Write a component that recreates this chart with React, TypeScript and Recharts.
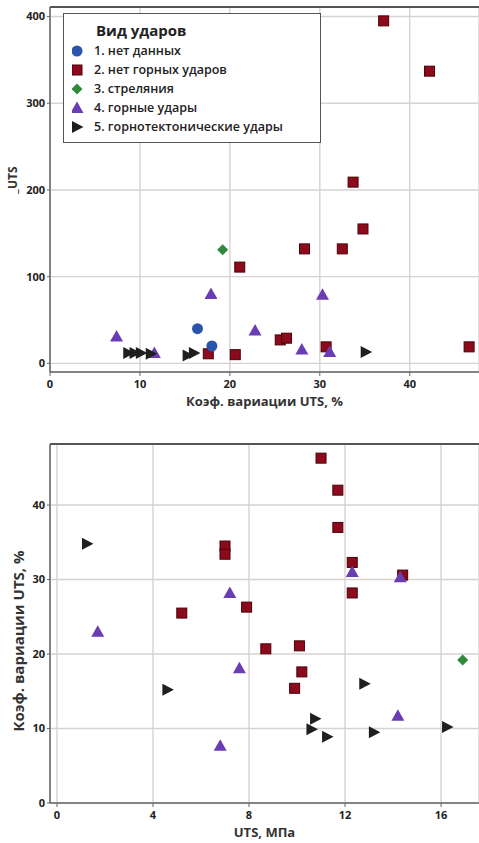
import React from "react";
import { ScatterChart, Scatter, XAxis, YAxis, CartesianGrid, ReferenceLine, Legend } from "recharts";

const FONT = "'Open Sans', 'DejaVu Sans', sans-serif";

const seriesNames = [
  "1. нет данных",
  "2. нет горных ударов",
  "3. стреляния",
  "4. горные удары",
  "5. горнотектонические удары",
];
const seriesColors = ["#2b55ad", "#8c0a1c", "#2f8a3c", "#6a3db5", "#1f1f1f"];

// верхний график: x = коэф. вариации UTS, %
const topXTicks = [0, 10, 20, 30, 40];
const topYTicks = [0, 100, 200, 300, 400];
const topNoData = [{ x: 16.4, y: 40 }, { x: 18.0, y: 20 }];
const topNoBursts = [
  { x: 37.1, y: 395 }, { x: 42.2, y: 337 }, { x: 33.7, y: 209 }, { x: 34.8, y: 155 },
  { x: 28.3, y: 132 }, { x: 32.5, y: 132 }, { x: 21.1, y: 111 }, { x: 25.6, y: 27 },
  { x: 26.3, y: 29 }, { x: 30.7, y: 19 }, { x: 46.6, y: 19 }, { x: 17.6, y: 11 },
  { x: 20.6, y: 10 },
];
const topShooting = [{ x: 19.2, y: 131 }];
const topBursts = [
  { x: 7.4, y: 31 }, { x: 17.9, y: 80 }, { x: 22.8, y: 38 }, { x: 28.0, y: 16 },
  { x: 30.3, y: 79 }, { x: 31.1, y: 13 }, { x: 11.6, y: 12 },
];
const topTectonic = [
  { x: 8.7, y: 12 }, { x: 9.4, y: 12 }, { x: 10.1, y: 12 }, { x: 11.2, y: 11 },
  { x: 15.3, y: 9 }, { x: 16.0, y: 12 }, { x: 35.1, y: 13 },
];

// нижний график: x = UTS, МПа
const bottomXTicks = [0, 4, 8, 12, 16];
const bottomYTicks = [0, 10, 20, 30, 40];
const bottomNoBursts = [
  { x: 11.0, y: 46.3 }, { x: 11.7, y: 42 }, { x: 11.7, y: 37 }, { x: 12.3, y: 32.3 },
  { x: 14.4, y: 30.6 }, { x: 12.3, y: 28.2 }, { x: 7.0, y: 34.5 }, { x: 7.0, y: 33.4 },
  { x: 5.2, y: 25.5 }, { x: 7.9, y: 26.3 }, { x: 8.7, y: 20.7 }, { x: 10.1, y: 21.1 },
  { x: 10.2, y: 17.6 }, { x: 9.9, y: 15.4 },
];
const bottomShooting = [{ x: 16.9, y: 19.2 }];
const bottomBursts = [
  { x: 1.7, y: 23 }, { x: 7.2, y: 28.2 }, { x: 7.6, y: 18.1 }, { x: 6.8, y: 7.7 },
  { x: 12.3, y: 31 }, { x: 14.3, y: 30.3 }, { x: 14.2, y: 11.7 },
];
const bottomTectonic = [
  { x: 1.25, y: 34.8 }, { x: 4.6, y: 15.2 }, { x: 12.8, y: 16 }, { x: 10.75, y: 11.3 },
  { x: 10.6, y: 9.9 }, { x: 11.25, y: 8.9 }, { x: 13.2, y: 9.5 }, { x: 16.25, y: 10.2 },
];

const marker = (i: number, cx: number, cy: number) => {
  const c = seriesColors[i];
  if (i === 0) return <circle cx={cx} cy={cy} r={5.5} fill={c} />;
  if (i === 1)
    return <rect x={cx - 5} y={cy - 5} width={10} height={10} fill={c} stroke="#4a0008" strokeWidth={1} />;
  if (i === 2)
    return <polygon points={`${cx},${cy - 5.5} ${cx + 5.5},${cy} ${cx},${cy + 5.5} ${cx - 5.5},${cy}`} fill={c} />;
  if (i === 3)
    return <polygon points={`${cx},${cy - 6.5} ${cx + 6.5},${cy + 5} ${cx - 6.5},${cy + 5}`} fill={c} />;
  return <polygon points={`${cx - 5},${cy - 6} ${cx + 6.5},${cy} ${cx - 5},${cy + 6}`} fill={c} />;
};

const shapeFor = (i: number) => (p: any) => marker(i, p.cx, p.cy);

const tickStyle = { fontSize: 11, fontWeight: 700, fill: "#222", fontFamily: FONT };
const axisLine = { stroke: "#666", strokeWidth: 1.5 };

const LegendBox = () => (
  <div
    style={{
      width: 258,
      height: 130,
      border: "1.5px solid #555",
      background: "#fff",
      boxSizing: "border-box",
      padding: "5px 0 0 8px",
      fontFamily: FONT,
      color: "#222",
      textAlign: "left",
    }}
  >
    <div style={{ fontSize: 15, fontWeight: 700, marginLeft: 24, lineHeight: "22px" }}>Вид ударов</div>
    {seriesNames.map((n, i) => (
      <div key={n} style={{ display: "flex", alignItems: "center", height: 19, fontSize: 12.5, fontWeight: 600 }}>
        <svg width={22} height={14}>{marker(i, 5, 7)}</svg>
        <span>{n}</span>
      </div>
    ))}
  </div>
);

const TopChart = () => (
  <ScatterChart width={479} height={415} margin={{ top: 7, right: 0, bottom: 0, left: 0 }} style={{ fontFamily: FONT }}>
    <CartesianGrid stroke="#d8d2d2" strokeWidth={1.4} />
    <XAxis
      type="number"
      dataKey="x"
      domain={[0, 47.7]}
      ticks={topXTicks}
      allowDataOverflow
      height={43}
      tick={tickStyle}
      tickSize={4}
      tickMargin={4}
      axisLine={axisLine}
      tickLine={{ stroke: "#666" }}
      label={(props: any) => {
        const vb = props.viewBox;
        return (
          <text x={vb.x + vb.width / 2} y={vb.y + 34} textAnchor="middle" fontSize={13} fontWeight={700} fill="#333" fontFamily={FONT}>
            Коэф. вариации UTS, %
          </text>
        );
      }}
    />
    <YAxis
      type="number"
      dataKey="y"
      domain={[-10, 411]}
      ticks={topYTicks}
      allowDataOverflow
      width={50}
      tick={tickStyle}
      tickSize={3}
      tickMargin={2}
      axisLine={axisLine}
      tickLine={{ stroke: "#666" }}
      label={() => (
        <g>
          <defs>
            <clipPath id="ylabel-cut">
              <rect x={11} y={0} width={40} height={400} />
            </clipPath>
          </defs>
          <text
            x={17}
            y={188}
            transform="rotate(-90, 17, 188)"
            clipPath="url(#ylabel-cut)"
            textAnchor="middle"
            fontSize={12}
            fontWeight={700}
            fill="#333"
            fontFamily={FONT}
          >
            ΔV_UTS
          </text>
        </g>
      )}
    />
    <ReferenceLine y={411} stroke="#555" strokeWidth={2} />
    <Legend
      layout="vertical"
      align="center"
      verticalAlign="middle"
      content={() => <LegendBox />}
      wrapperStyle={{ position: "absolute", left: 63, top: 13, width: 258, height: 130 }}
    />
    <Scatter name={seriesNames[1]} data={topNoBursts} shape={shapeFor(1)} isAnimationActive={false} />
    <Scatter name={seriesNames[3]} data={topBursts} shape={shapeFor(3)} isAnimationActive={false} />
    <Scatter name={seriesNames[4]} data={topTectonic} shape={shapeFor(4)} isAnimationActive={false} />
    <Scatter name={seriesNames[0]} data={topNoData} shape={shapeFor(0)} isAnimationActive={false} />
    <Scatter name={seriesNames[2]} data={topShooting} shape={shapeFor(2)} isAnimationActive={false} />
  </ScatterChart>
);

const BottomChart = () => (
  <ScatterChart width={479} height={423} margin={{ top: 24, right: 0, bottom: 0, left: 0 }} style={{ fontFamily: FONT }}>
    <CartesianGrid stroke="#d8d2d2" strokeWidth={1.4} />
    <XAxis
      type="number"
      dataKey="x"
      domain={[-0.29, 17.58]}
      ticks={bottomXTicks}
      allowDataOverflow
      height={40}
      tick={tickStyle}
      tickSize={4}
      tickMargin={4}
      axisLine={axisLine}
      tickLine={{ stroke: "#666" }}
      label={(props: any) => {
        const vb = props.viewBox;
        return (
          <text x={vb.x + vb.width / 2} y={vb.y + 33.5} textAnchor="middle" fontSize={13} fontWeight={700} fill="#333" fontFamily={FONT}>
            UTS, МПа
          </text>
        );
      }}
    />
    <YAxis
      type="number"
      dataKey="y"
      domain={[0, 48.2]}
      ticks={bottomYTicks}
      allowDataOverflow
      width={50}
      tick={tickStyle}
      tickSize={3}
      tickMargin={2}
      axisLine={axisLine}
      tickLine={{ stroke: "#666" }}
      label={() => (
        <text x={24} y={221} transform="rotate(-90, 24, 221)" textAnchor="middle" fontSize={15} fontWeight={700} fill="#333" fontFamily={FONT}>
          Коэф. вариации UTS, %
        </text>
      )}
    />
    <ReferenceLine y={48.2} stroke="#555" strokeWidth={2} />
    <Scatter name={seriesNames[1]} data={bottomNoBursts} shape={shapeFor(1)} isAnimationActive={false} />
    <Scatter name={seriesNames[3]} data={bottomBursts} shape={shapeFor(3)} isAnimationActive={false} />
    <Scatter name={seriesNames[4]} data={bottomTectonic} shape={shapeFor(4)} isAnimationActive={false} />
    <Scatter name={seriesNames[2]} data={bottomShooting} shape={shapeFor(2)} isAnimationActive={false} />
  </ScatterChart>
);

export default function App() {
  return (
    <div style={{ position: "absolute", left: 0, top: 0, width: 479, height: 843, background: "#fff", overflow: "hidden" }}>
      <div style={{ position: "absolute", left: 0, top: 0 }}>
        <TopChart />
      </div>
      <div style={{ position: "absolute", left: 0, top: 420 }}>
        <BottomChart />
      </div>
    </div>
  );
}
